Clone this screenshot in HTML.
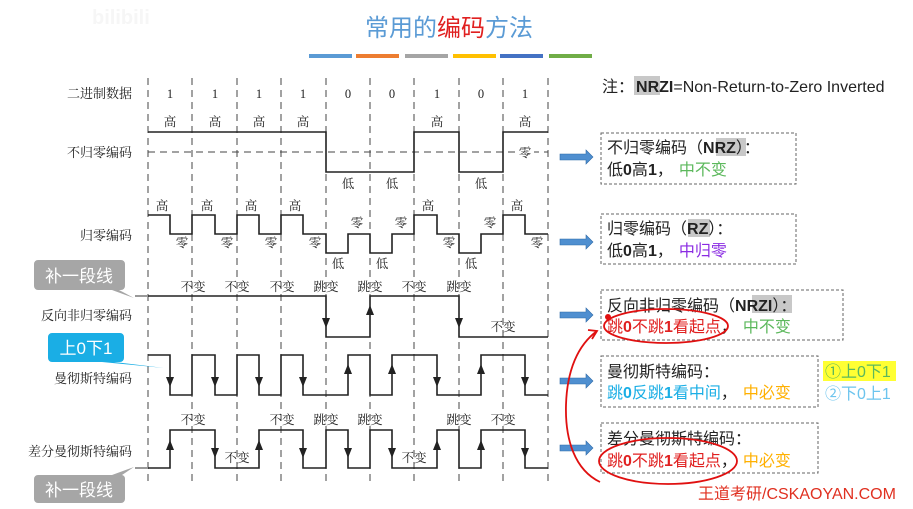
<!DOCTYPE html>
<html><head><meta charset="utf-8"><style>
html,body{margin:0;padding:0;background:#fff;width:913px;height:509px;overflow:hidden}
svg{display:block}
.lb{font-family:"Liberation Serif","Noto Serif CJK SC",serif;font-size:13px;fill:#222}
.sm{font-family:"Liberation Serif","Noto Serif CJK SC",serif;font-size:12.5px;fill:#222;text-anchor:middle}
.rt{font-family:"Liberation Sans","Noto Sans CJK SC",sans-serif;font-size:16px;fill:#222}
</style></head><body>
<svg width="913" height="509" viewBox="0 0 913 509" xmlns="http://www.w3.org/2000/svg">
<text x="92" y="24" font-family="Liberation Sans,sans-serif" font-size="20" font-weight="bold" fill="#f6f6f6">bilibili</text>
<text x="449" y="36" text-anchor="middle" font-family="Liberation Sans,'Noto Sans CJK SC',sans-serif" font-size="24" fill="#5b9bd5">常用的<tspan fill="#e02020">编码</tspan>方法</text>
<g stroke-width="4">
<line x1="309" y1="56" x2="352" y2="56" stroke="#5b9bd5"/><line x1="356" y1="56" x2="399" y2="56" stroke="#ed7d31"/>
<line x1="405" y1="56" x2="448" y2="56" stroke="#a5a5a5"/><line x1="453" y1="56" x2="496" y2="56" stroke="#ffc000"/>
<line x1="500" y1="56" x2="543" y2="56" stroke="#4472c4"/><line x1="549" y1="56" x2="592" y2="56" stroke="#70ad47"/>
</g>
<g stroke="#444" stroke-width="1" stroke-dasharray="7,5">
<line x1="148" y1="78" x2="148" y2="482"/><line x1="192" y1="78" x2="192" y2="482"/><line x1="237" y1="78" x2="237" y2="482"/>
<line x1="281" y1="78" x2="281" y2="482"/><line x1="326" y1="78" x2="326" y2="482"/><line x1="370" y1="78" x2="370" y2="482"/>
<line x1="414" y1="78" x2="414" y2="482"/><line x1="459" y1="78" x2="459" y2="482"/><line x1="503" y1="78" x2="503" y2="482"/>
<line x1="548" y1="78" x2="548" y2="482"/>
<line x1="148" y1="152" x2="548" y2="152"/>
</g>
<g class="lb" text-anchor="end">
<text x="132" y="98">二进制数据</text><text x="132" y="157">不归零编码</text><text x="132" y="240">归零编码</text>
<text x="132" y="320">反向非归零编码</text><text x="132" y="383">曼彻斯特编码</text><text x="132" y="456">差分曼彻斯特编码</text>
</g>
<g class="sm">
<text x="170" y="98">1</text><text x="215" y="98">1</text><text x="259" y="98">1</text><text x="303" y="98">1</text><text x="348" y="98">0</text><text x="392" y="98">0</text><text x="437" y="98">1</text><text x="481" y="98">0</text><text x="525" y="98">1</text>
<text x="170" y="126">高</text><text x="215" y="126">高</text><text x="259" y="126">高</text><text x="303" y="126">高</text><text x="437" y="126">高</text><text x="525" y="126">高</text>
<text x="348" y="188">低</text><text x="392" y="188">低</text><text x="481" y="188">低</text>
</g>
<rect x="517" y="145" width="17" height="15" fill="#fff"/>
<text class="sm" x="525" y="157">零</text>
<g fill="none" stroke="#222" stroke-width="1.6">
<path d="M148 132H326V172H414V132H459V172H503V132H548"/>
<path d="M148 215H170V234H192V215H215V234H237V215H259V234H281V215H303V234H326V253H348V234H370V253H392V234H414V215H437V234H459V253H481V234H503V215H525V234H548"/>
<path d="M148 296H326V337H370V296H459V337H548"/>
<path d="M148 355H170V395H192V355H215V395H237V355H259V395H281V355H303V395H348V355H370V395H392V355H437V395H481V355H525V395H548"/>
<path d="M148 468H170V430H215V468H259V430H303V468H326V430H348V468H370V430H392V468H437V430H459V468H481V430H525V468H548"/>
</g>
<line x1="135" y1="296" x2="148" y2="296" stroke="#999" stroke-width="2"/>
<line x1="135" y1="468" x2="148" y2="468" stroke="#999" stroke-width="2"/>
<g fill="#222">
<path d="M322 318l4 10 4-10z"/><path d="M366 315l4-10 4 10z"/><path d="M455 318l4 10 4-10z"/>
<path d="M166 377l4 10 4-10z"/><path d="M211 377l4 10 4-10z"/><path d="M255 377l4 10 4-10z"/><path d="M299 377l4 10 4-10z"/><path d="M433 377l4 10 4-10z"/><path d="M521 377l4 10 4-10z"/>
<path d="M344 374l4-10 4 10z"/><path d="M388 374l4-10 4 10z"/><path d="M477 374l4-10 4 10z"/>
<path d="M166 450l4-10 4 10z"/><path d="M255 450l4-10 4 10z"/><path d="M433 450l4-10 4 10z"/><path d="M477 450l4-10 4 10z"/>
<path d="M211 448l4 10 4-10z"/><path d="M299 448l4 10 4-10z"/><path d="M344 448l4 10 4-10z"/><path d="M388 448l4 10 4-10z"/><path d="M521 448l4 10 4-10z"/>
</g>
<g class="sm">
<text x="162" y="210">高</text><text x="207" y="210">高</text><text x="251" y="210">高</text><text x="295" y="210">高</text><text x="428" y="210">高</text><text x="517" y="210">高</text>
<text x="182" y="247">零</text><text x="227" y="247">零</text><text x="271" y="247">零</text><text x="315" y="247">零</text><text x="449" y="247">零</text><text x="537" y="247">零</text>
<text x="357" y="227">零</text><text x="401" y="227">零</text><text x="490" y="227">零</text>
<text x="338" y="268">低</text><text x="382" y="268">低</text><text x="471" y="268">低</text>
<text x="193" y="291">不变</text><text x="237" y="291">不变</text><text x="282" y="291">不变</text><text x="326" y="291">跳变</text><text x="370" y="291">跳变</text><text x="414" y="291">不变</text><text x="459" y="291">跳变</text>
<text x="503" y="331">不变</text>
<text x="193" y="424">不变</text><text x="282" y="424">不变</text><text x="326" y="424">跳变</text><text x="370" y="424">跳变</text><text x="459" y="424">跳变</text><text x="503" y="424">不变</text>
<text x="237" y="462">不变</text><text x="414" y="462">不变</text>
</g>
<g font-family="Liberation Sans,'Noto Sans CJK SC',sans-serif" font-size="17" fill="#fff" text-anchor="middle">
<path d="M38 260h83a4 4 0 0 1 4 4v22a4 4 0 0 1-4 4h-2l15 8-22-8h-74a4 4 0 0 1-4-4v-22a4 4 0 0 1 4-4z" fill="#a6a6a6"/>
<text x="79" y="282">补一段线</text>
<path d="M38 475h74l22-8-12 8a4 4 0 0 1 3 4v20a4 4 0 0 1-4 4h-83a4 4 0 0 1-4-4v-20a4 4 0 0 1 4-4z" fill="#a6a6a6"/>
<text x="79" y="496">补一段线</text>
<path d="M52 333h68a4 4 0 0 1 4 4v21a4 4 0 0 1-4 4h-6l50 6-62-6h-50a4 4 0 0 1-4-4v-21a4 4 0 0 1 4-4z" fill="#1aaee5"/>
<text x="86" y="354">上0下1</text>
</g>
<rect x="634" y="76" width="26" height="19" fill="#c8c8c8"/>
<text class="rt" x="602" y="92">注：<tspan font-weight="bold" dx="2">NRZI</tspan>=Non-Return-to-Zero Inverted</text>
<g fill="none" stroke="#666" stroke-dasharray="3,2">
<rect x="601" y="133" width="195" height="51"/><rect x="601" y="214" width="195" height="50"/>
<rect x="601" y="290" width="242" height="50"/><rect x="601" y="356" width="217" height="51"/><rect x="601" y="423" width="217" height="50"/>
</g>
<g fill="#4f8fd0" stroke="#2e6aa8" stroke-width="0.6">
<path d="M560 154h26v-4l7 7-7 7v-4h-26z"/><path d="M560 239h26v-4l7 7-7 7v-4h-26z"/>
<path d="M560 312h26v-4l7 7-7 7v-4h-26z"/><path d="M560 378h26v-4l7 7-7 7v-4h-26z"/><path d="M560 445h26v-4l7 7-7 7v-4h-26z"/>
</g>
<rect x="716" y="138" width="30" height="18" fill="#c8c8c8"/>
<rect x="688" y="219" width="22" height="18" fill="#c8c8c8"/>
<rect x="752" y="295" width="40" height="18" fill="#c8c8c8"/>
<g class="rt" font-size="17">
<text x="607" y="153">不归零编码（<tspan font-weight="bold">NRZ</tspan>）：</text>
<text x="607" y="175">低<tspan font-weight="bold">0</tspan>高<tspan font-weight="bold">1</tspan>，<tspan fill="#5cb85c" dx="6">中不变</tspan></text>
<text x="607" y="234">归零编码（<tspan font-weight="bold">RZ</tspan>）：</text>
<text x="607" y="256">低<tspan font-weight="bold">0</tspan>高<tspan font-weight="bold">1</tspan>，<tspan fill="#8a2be2" dx="6">中归零</tspan></text>
<text x="607" y="311">反向非归零编码（<tspan font-weight="bold">NRZI</tspan>）：</text>
<text x="607" y="332"><tspan fill="#e02020">跳<tspan font-weight="bold">0</tspan>不跳<tspan font-weight="bold">1</tspan>看起点</tspan>，<tspan fill="#5cb85c" dx="6">中不变</tspan></text>
<text x="607" y="377">曼彻斯特编码：</text>
<text x="607" y="398"><tspan fill="#1aaee5">跳<tspan font-weight="bold">0</tspan>反跳<tspan font-weight="bold">1</tspan>看中间</tspan>，<tspan fill="#ffb000" dx="6">中必变</tspan></text>
<text x="607" y="444">差分曼彻斯特编码：</text>
<text x="607" y="466"><tspan fill="#e02020">跳<tspan font-weight="bold">0</tspan>不跳<tspan font-weight="bold">1</tspan>看起点</tspan>，<tspan fill="#ffb000" dx="6">中必变</tspan></text>
</g>
<rect x="823" y="361" width="73" height="20" fill="#ffff33"/>
<text class="rt" x="825" y="377" style="fill:#5cb85c">①上0下1</text>
<text class="rt" x="825" y="399" style="fill:#6cc4ee">②下0上1</text>
<g fill="none" stroke="#e01010" stroke-width="1.8">
<ellipse cx="666" cy="326" rx="62" ry="17"/>
<ellipse cx="668" cy="461" rx="69" ry="23"/>
<path d="M600 482C575 470 565 440 566 405C567 370 578 345 597 331"/>
<path d="M588 330L597 331L592 339"/>
</g>
<circle cx="608" cy="317" r="3" fill="#e01010"/>
<text x="698" y="499" font-family="Liberation Sans,'Noto Sans CJK SC',sans-serif" font-size="16" fill="#e03020">王道考研/CSKAOYAN.COM</text>
</svg>
</body></html>
